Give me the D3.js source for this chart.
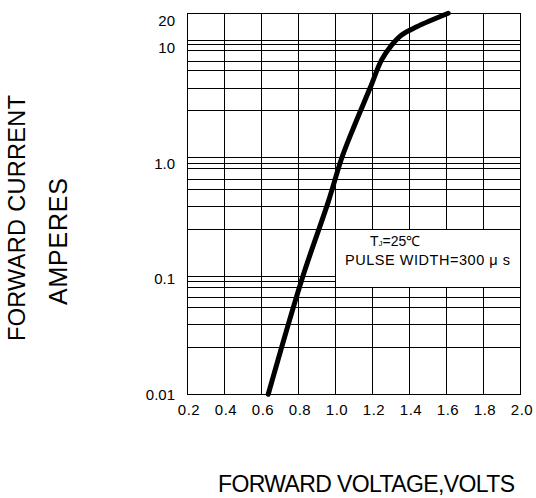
<!DOCTYPE html>
<html>
<head>
<meta charset="utf-8">
<script src="https://cdn.jsdelivr.net/npm/d3@7"></script>
<style>
html,body{margin:0;padding:0;background:#fff;}
svg{display:block;font-family:"Liberation Sans",Arial,sans-serif;}
</style>
</head>
<body>
<svg id="chart" width="536" height="498"></svg>
<script>
// ---- data ----
const voltage = [0.639, 0.82, 0.964, 1.036, 1.099, 1.189, 1.252, 1.306, 1.36, 1.442, 1.612];
const current = [0.01, 0.098, 0.467, 1.11, 2.02, 4.48, 7.89, 10.6, 12.99, 15.3, 20.0];
const xTicks = [0.2, 0.4, 0.6, 0.8, 1.0, 1.2, 1.4, 1.6, 1.8, 2.0];
const xTickLabels = ["0.2", "0.4", "0.6", "0.8", "1.0", "1.2", "1.4", "1.6", "1.8", "2.0"];
const yTicks = [0.01, 0.1, 1, 10, 20];
const yTickLabels = ["0.01", "0.1", "1.0", "10", "20"];
const yGrid = [11.76, 10.79, 9.63, 7.78, 6.42, 4.48, 2.91,
               1.13, 1.0, 0.909, 0.734, 0.601, 0.428, 0.271,
               0.106, 0.0959, 0.0856, 0.0701, 0.0571, 0.0404, 0.0259];
const noteBox = {x0: 1.0, x1: 2.0, yTop: 0.271, yBottom: 0.0856};
const xTitle = "FORWARD VOLTAGE,VOLTS";
const yTitle1 = "FORWARD CURRENT";
const yTitle2 = "AMPERES";

// ---- layout ----
const svg = d3.select("#chart");
const x = d3.scaleLinear().domain([0.2, 2.0]).range([187, 520]);
const y = d3.scaleLog().domain([0.01, 20]).range([394.3, 13.3]);
const crisp = v => Math.round(v) + 0.5;

const grid = svg.append("g").attr("stroke", "#000").attr("stroke-width", 1).attr("fill", "none");
grid.selectAll("line.h").data(yGrid).join("line")
  .attr("class", "h")
  .attr("x1", x(0.2)).attr("x2", x(2.0))
  .attr("y1", d => crisp(y(d))).attr("y2", d => crisp(y(d)));
grid.selectAll("line.v").data(xTicks).join("line")
  .attr("class", "v")
  .attr("x1", d => crisp(x(d))).attr("x2", d => crisp(x(d)))
  .attr("y1", y(20)).attr("y2", y(0.01));
grid.append("rect")
  .attr("x", crisp(x(0.2))).attr("y", crisp(y(20)))
  .attr("width", crisp(x(2.0)) - crisp(x(0.2)))
  .attr("height", crisp(y(0.01)) - crisp(y(20)));

// note box (white panel over grid)
const bx0 = crisp(x(noteBox.x0)) + 0.5, bx1 = crisp(x(noteBox.x1)) - 0.5;
const by0 = crisp(y(noteBox.yTop)) + 0.5, by1 = crisp(y(noteBox.yBottom)) - 0.5;
svg.append("rect").attr("x", bx0).attr("y", by0)
  .attr("width", bx1 - bx0).attr("height", by1 - by0).attr("fill", "#fff");

const t1 = svg.append("text").attr("x", 370).attr("y", 246).attr("font-size", 14).attr("fill", "#000");
t1.append("tspan").text("T");
t1.append("tspan").attr("font-size", 8).text("J");
t1.append("tspan").text("=25℃");
svg.append("text").attr("x", 345).attr("y", 265).attr("font-size", 14.5)
  .attr("textLength", 165).attr("lengthAdjust", "spacing").attr("fill", "#000")
  .text("PULSE WIDTH=300 μ s");

// curve
const line = d3.line()
  .x(d => x(d[0])).y(d => y(d[1]))
  .curve(d3.curveCatmullRom.alpha(0.5));
svg.append("path")
  .datum(voltage.map((v, i) => [v, current[i]]))
  .attr("d", line)
  .attr("fill", "none").attr("stroke", "#000").attr("stroke-width", 5)
  .attr("stroke-linecap", "round").attr("stroke-linejoin", "round");

// x tick labels
svg.append("g").selectAll("text").data(xTicks).join("text")
  .attr("x", d => x(d) + 2).attr("y", 415)
  .attr("text-anchor", "middle").attr("font-size", 15).attr("letter-spacing", 0.5)
  .text((d, i) => xTickLabels[i]);

// y tick labels
svg.append("g").selectAll("text").data(yTicks).join("text")
  .attr("x", 175).attr("y", d => y(d) + (d === 20 ? 7 : 0))
  .attr("dy", "0.36em")
  .attr("text-anchor", "end").attr("font-size", 15)
  .text((d, i) => yTickLabels[i]);

// titles
svg.append("text").attr("x", 366.5).attr("y", 491.5)
  .attr("text-anchor", "middle").attr("font-size", 23)
  .attr("textLength", 297).attr("lengthAdjust", "spacing")
  .text(xTitle);
svg.append("text").attr("transform", "translate(25,218) rotate(-90)")
  .attr("text-anchor", "middle").attr("font-size", 23.5)
  .attr("textLength", 246).attr("lengthAdjust", "spacing")
  .text(yTitle1);
svg.append("text").attr("transform", "translate(67,241.5) rotate(-90)")
  .attr("text-anchor", "middle").attr("font-size", 25)
  .attr("textLength", 127).attr("lengthAdjust", "spacing")
  .text(yTitle2);
</script>
</body>
</html>
